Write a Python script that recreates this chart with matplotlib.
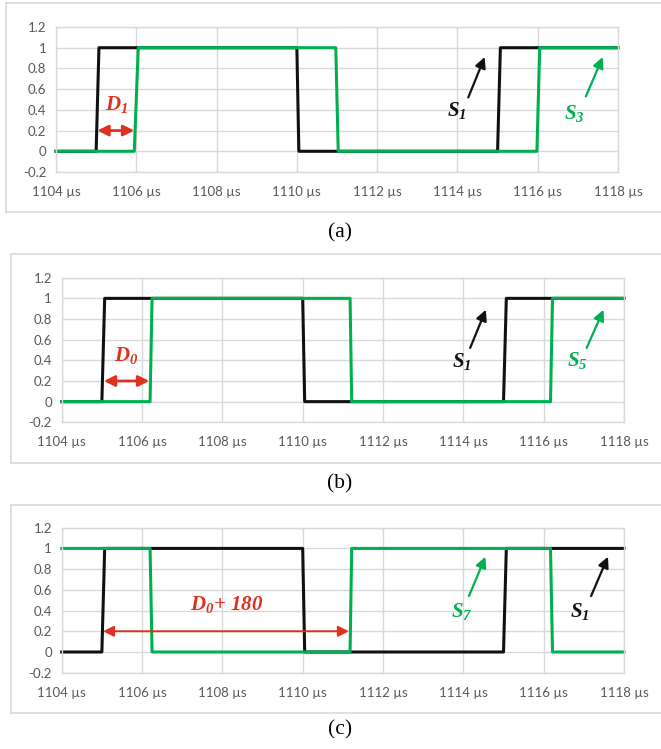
import matplotlib.pyplot as plt
import matplotlib.lines as mlines

plt.rcParams['font.family'] = ['Lato', 'DejaVu Sans']
plt.rcParams['mathtext.fontset'] = 'custom'
plt.rcParams['mathtext.rm'] = 'Liberation Serif:italic:bold'
plt.rcParams['mathtext.it'] = 'Liberation Serif:italic:bold'
plt.rcParams['mathtext.bf'] = 'Liberation Serif:italic:bold'

# switching signals (time in us, level 0/1)
t_s1 = [1104, 1105.0, 1105.07, 1110.0, 1110.05, 1115.0, 1115.07, 1118]
s1 = [0, 0, 1, 1, 0, 0, 1, 1]

t_s3 = [1104, 1105.95, 1106.05, 1110.97, 1111.03, 1115.98, 1116.05, 1118]
s3 = [0, 0, 1, 1, 0, 0, 1, 1]

t_s5 = [1104, 1106.2, 1106.25, 1111.18, 1111.22, 1116.17, 1116.22, 1118]
s5 = [0, 0, 1, 1, 0, 0, 1, 1]

t_s7 = [1104, 1106.2, 1106.25, 1111.18, 1111.22, 1116.17, 1116.22, 1118]
s7 = [1, 1, 0, 0, 1, 1, 0, 0]

xticks = [1104, 1106, 1108, 1110, 1112, 1114, 1116, 1118]
yticks = [-0.2, 0, 0.2, 0.4, 0.6, 0.8, 1, 1.2]
ylabels = ['-0.2', '0', '0.2', '0.4', '0.6', '0.8', '1', '1.2']

BLACK = '#111111'
GREEN = '#00b050'
RED = '#e0301e'
GRID = '#d9d9d9'
TICK = '#595959'

W, H = 661, 749
fig = plt.figure(figsize=(W / 100, H / 100), dpi=100)


def px_axes(x0, y0, x1, y1):
    return fig.add_axes([x0 / W, 1 - y1 / H, (x1 - x0) / W, (y1 - y0) / H])


def frame(x0, y0, y1):
    kw = dict(color=GRID, lw=1.2, transform=fig.transFigure)
    fig.add_artist(mlines.Line2D([x0 / W, 1.0], [1 - y0 / H, 1 - y0 / H], **kw))
    fig.add_artist(mlines.Line2D([x0 / W, 1.0], [1 - y1 / H, 1 - y1 / H], **kw))
    fig.add_artist(mlines.Line2D([x0 / W, x0 / W], [1 - y0 / H, 1 - y1 / H], **kw))


def style(ax):
    ax.set_xlim(1104, 1118)
    ax.set_ylim(-0.2, 1.2)
    ax.set_xticks(xticks)
    ax.set_xticklabels([f'{t} µs' for t in xticks])
    ax.set_yticks(yticks)
    ax.set_yticklabels(ylabels)
    ax.grid(True, color=GRID, lw=1.0)
    ax.set_axisbelow(True)
    for s in ax.spines.values():
        s.set_color(GRID)
        s.set_linewidth(1.0)
    ax.tick_params(length=0, labelsize=9.5, labelcolor=TICK)
    ax.tick_params(axis='x', pad=10)
    ax.tick_params(axis='y', pad=7)


def arrow(ax, x0, y0, x1, y1, color, both=False, lw=1.6):
    ax.annotate('', xy=(x1, y1), xytext=(x0, y0),
                arrowprops=dict(arrowstyle='<|-|>' if both else '-|>',
                                color=color, lw=lw, mutation_scale=16,
                                shrinkA=0, shrinkB=0))


def label(ax, x, y, s, color):
    ax.text(x, y, s, color=color, fontsize=15, ha='center', va='center')


def caption(y, s):
    fig.text(340 / W, 1 - y / H, s, family='Liberation Serif', fontsize=15.5,
             ha='center', va='center')


# (a)
frame(6, 3, 212)
ax = px_axes(56, 27, 618, 172)
style(ax)
ax.plot(t_s1, s1, color=BLACK, lw=2.2, clip_on=False)
ax.plot(t_s3, s3, color=GREEN, lw=2.2, clip_on=False)
arrow(ax, 1105.03, 0.2, 1105.95, 0.2, RED, both=True, lw=2.0)
label(ax, 1105.5, 0.45, r'$D_1$', RED)
arrow(ax, 1114.27, 0.52, 1114.68, 0.91, BLACK)
label(ax, 1113.98, 0.39, r'$S_1$', BLACK)
arrow(ax, 1117.2, 0.53, 1117.62, 0.91, GREEN)
label(ax, 1116.9, 0.36, r'$S_3$', GREEN)
caption(233, '(a)')

# (b)
frame(10.7, 254, 463)
ax = px_axes(61.7, 277.7, 624, 422.3)
style(ax)
ax.plot(t_s1, s1, color=BLACK, lw=2.2, clip_on=False)
ax.plot(t_s5, s5, color=GREEN, lw=2.2, clip_on=False)
arrow(ax, 1105.05, 0.2, 1106.18, 0.2, RED, both=True, lw=2.0)
label(ax, 1105.6, 0.45, r'$D_0$', RED)
arrow(ax, 1114.17, 0.52, 1114.56, 0.89, BLACK)
label(ax, 1113.97, 0.39, r'$S_1$', BLACK)
arrow(ax, 1117.07, 0.52, 1117.49, 0.89, GREEN)
label(ax, 1116.84, 0.40, r'$S_5$', GREEN)
caption(484, '(b)')

# (c)
frame(10.7, 505, 713)
ax = px_axes(61.7, 527.7, 624, 672.7)
style(ax)
ax.plot(t_s1, s1, color=BLACK, lw=2.2, clip_on=False)
ax.plot(t_s7, s7, color=GREEN, lw=2.2, clip_on=False)
arrow(ax, 1105.03, 0.2, 1111.15, 0.2, RED, both=True, lw=1.4)
label(ax, 1108.1, 0.46, r'$D_0{+}\ 180$', RED)
arrow(ax, 1114.14, 0.54, 1114.55, 0.92, GREEN)
label(ax, 1113.95, 0.39, r'$S_7$', GREEN)
arrow(ax, 1117.18, 0.54, 1117.6, 0.92, BLACK)
label(ax, 1116.9, 0.39, r'$S_1$', BLACK)
caption(730, '(c)')

fig.savefig('out.png', dpi=100)
